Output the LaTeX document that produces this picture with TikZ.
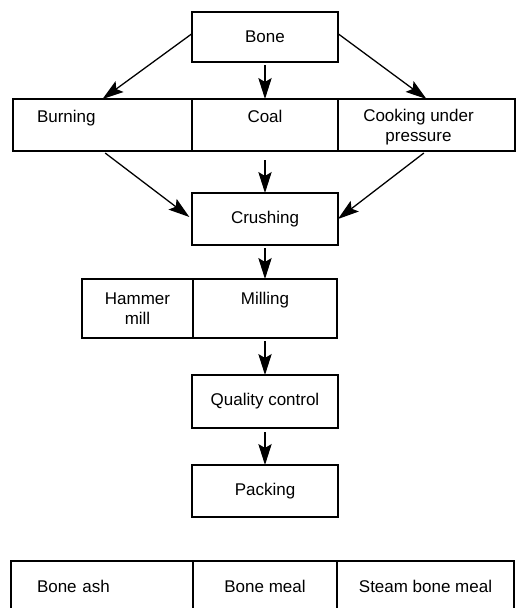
\documentclass[tikz,border=0pt]{standalone}
\usepackage{fontspec}
\newfontfamily\boxfont{Liberation Sans}
\usetikzlibrary{positioning,arrows.meta}
\begin{document}
\begin{tikzpicture}[node distance=1.11cm, line width=1.1pt,
	>={Stealth[length=6.3mm,width=4mm,inset=1.2mm]},
	main/.style = {draw,rectangle,outer sep=0pt,minimum width=4.38cm,minimum height=1.56cm,
		font=\boxfont\fontsize{14.5}{17}\selectfont},
	cell/.style = {main,text height=10.5pt,text depth=15pt},
	twocell/.style = {main,align=center,text height=27.5pt,text depth=-2pt},
	tallcell/.style = {main,minimum height=1.77cm,text height=10.5pt,text depth=17.6pt}]
	\useasboundingbox (0,0) rectangle (15.51,-18.24);
	\clip (0,0) rectangle (15.51,-18.24);
	%Top of the chain
	\node[main,minimum height=1.5cm] (bone) at (7.95,-1.11) {Bone};
	%Row of the three treatments
	\node[cell] (coal) [below=of bone] {Coal};
	\node[cell,text width=3.93cm,align=left,inner xsep=0.72cm] (burn) [left=0pt of coal] {Burning};
	\node[twocell,minimum width=5.31cm] (cook) [right=0pt of coal] {\hspace*{-0.48cm}Cooking under\\\hspace*{-0.48cm}pressure};
	%Middle part of the chain
	\node[main] (crush) [below=1.26cm of coal] {Crushing};
	\node[tallcell,minimum width=4.32cm] (mill) [below=1.02cm of crush] {Milling};
	\node[twocell,minimum height=1.77cm,text depth=0.6pt,minimum width=3.33cm] (hammer) [left=0pt of mill] {Hammer\\mill};
	\node[main,minimum height=1.59cm] (qual) [below=of mill] {Quality control};
	\node[main] (pack) [below=of qual] {Packing};
	%Row of the three products
	\node[main,minimum width=4.32cm,minimum height=1.5cm] (meal) [below=1.32cm of pack] {Bone meal};
	\node[main,minimum height=1.5cm,text width=3.9cm,align=left,inner xsep=0.78cm] (ash) [left=0pt of meal] {Bone ash};
	\node[main,minimum width=5.31cm,minimum height=1.5cm] (steam) [right=0pt of meal] {Steam bone meal};
	
	%Edges from bone to the treatments
	\draw[->] ([yshift=1mm]bone.west) -- (burn.north); %Bone -> Burning
	\draw[->,shorten <=1mm] (bone) -- (coal); %Bone -> Coal
	\draw[->] ([yshift=1mm]bone.east) -- (cook.north); %Bone -> Cooking
	
	%Edges from the treatments to crushing
	\draw[->,shorten <=1mm,shorten >=1mm] (burn.south) -- (crush.west); %Burning -> Crushing
	\draw[->,shorten <=2.7mm] (coal) -- (crush); %Coal -> Crushing
	\draw[->,shorten <=1mm] (cook.south) -- (crush.east); %Cooking -> Crushing
	
	%Edges down the chain
	\draw[->,shorten <=1mm] (crush) -- (mill); %Crushing -> Milling
	\draw[->,shorten <=1mm] (mill) -- (qual); %Milling -> Quality control
	\draw[->,shorten <=1.2mm] (qual) -- (pack); %Quality control -> Packing
\end{tikzpicture}
\end{document}
